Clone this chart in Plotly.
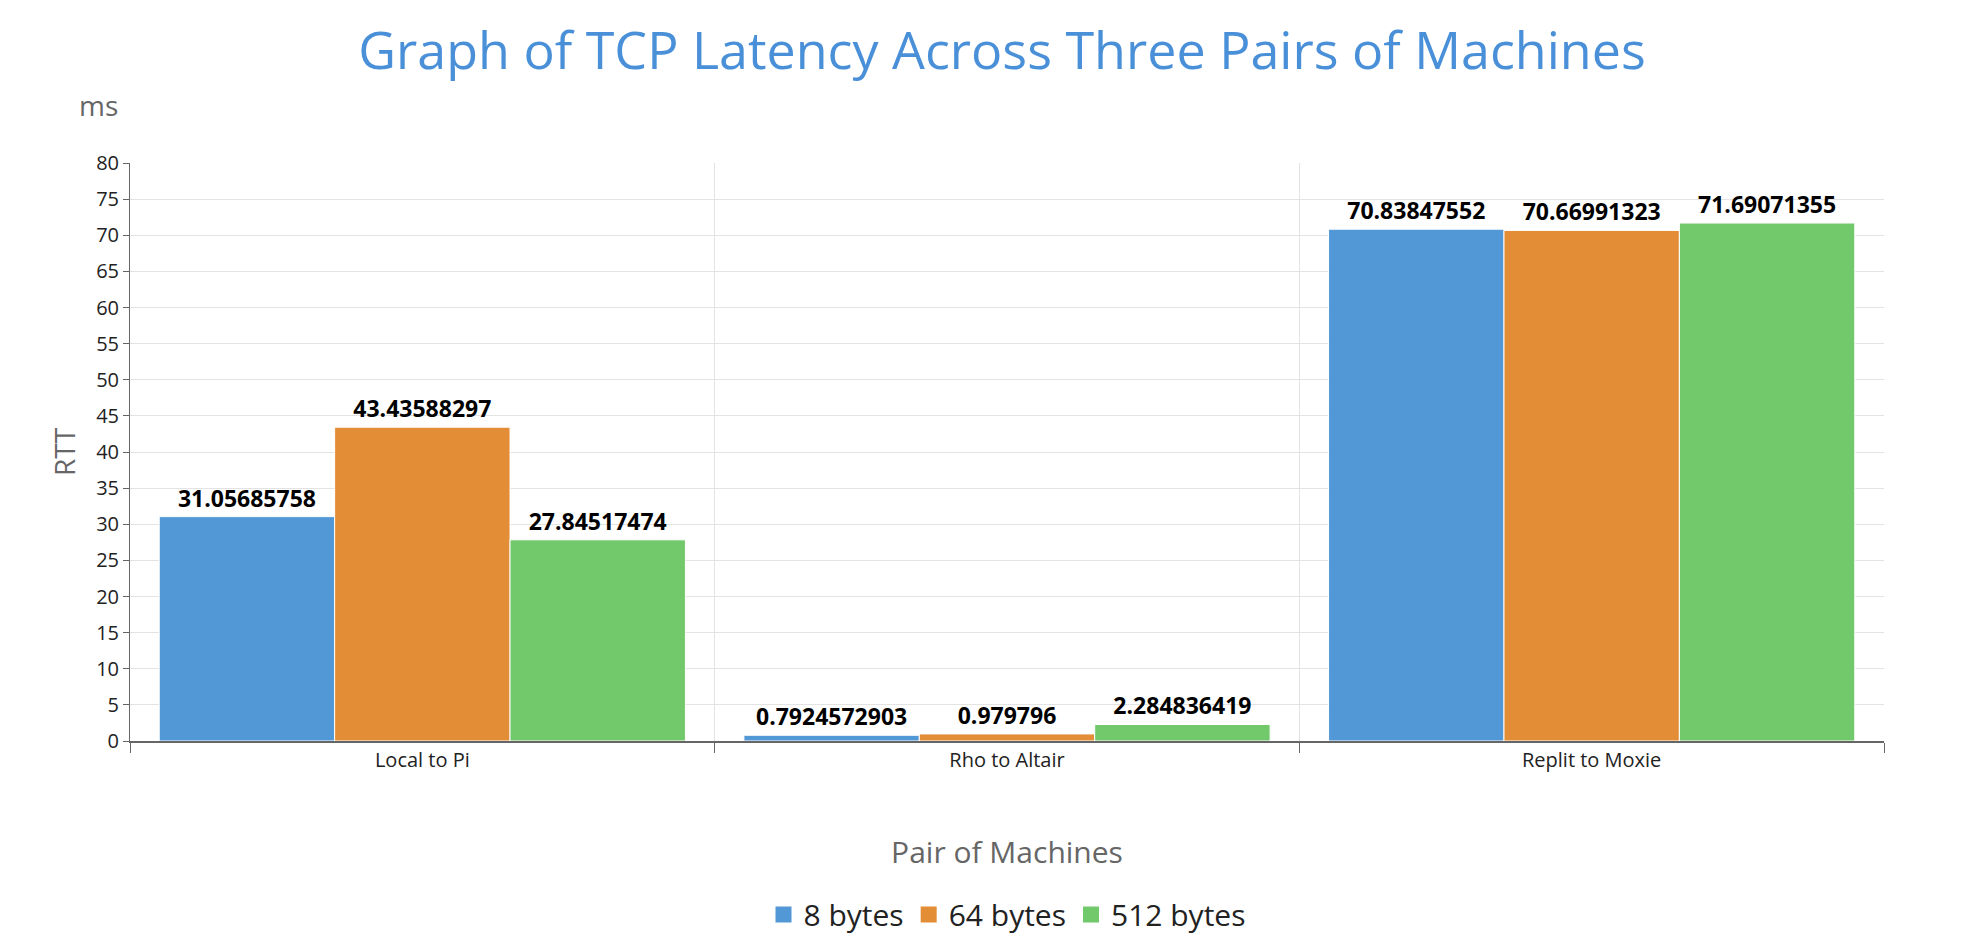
import plotly.graph_objects as go

categories = ["Local to Pi", "Rho to Altair", "Replit to Moxie"]
series_names = ["8 bytes", "64 bytes", "512 bytes"]
vals_8 = [31.05685758, 0.7924572903, 70.83847552]
vals_64 = [43.43588297, 0.979796, 70.66991323]
vals_512 = [27.84517474, 2.284836419, 71.69071355]
colors = ["#5398d6", "#e38d37", "#72c96c"]

fig = go.Figure()
for name, vals, c in zip(series_names, [vals_8, vals_64, vals_512], colors):
    fig.add_trace(go.Bar(
        x=categories, y=vals, name=name, showlegend=False,
        marker=dict(color=c, line=dict(color="white", width=1)),
        text=[str(v) for v in vals], textposition="outside",
        textfont=dict(family="Open Sans", size=23, color="black", weight="bold"),
        cliponaxis=False,
    ))
# legend entries with large square swatches
for name, c in zip(series_names, colors):
    fig.add_trace(go.Scatter(
        x=[None], y=[None], mode="markers", name=name,
        marker=dict(symbol="square", size=30, color=c),
    ))

fig.update_layout(
    width=1988, height=944,
    paper_bgcolor="white", plot_bgcolor="white",
    font=dict(family="Open Sans", color="#333"),
    title=dict(text="Graph of TCP Latency Across Three Pairs of Machines",
               x=0.5, xanchor="center", y=0.955, yanchor="middle",
               font=dict(size=52, color="#4a90d9")),
    margin=dict(l=122, r=112, t=155, b=200),
    barmode="group", bargap=0.1, bargroupgap=0,
    showlegend=True,
    legend=dict(orientation="h", x=0.5, xanchor="center", y=-0.3, yanchor="middle",
                font=dict(size=30, color="#222"), itemsizing="trace"),
    xaxis=dict(title=dict(text="Pair of Machines", font=dict(size=30, color="#666"), standoff=70),
               tickson="boundaries", showgrid=True, gridcolor="#e3e3e3",
               ticks="outside", ticklen=10, tickcolor="#666",
               tickfont=dict(size=20, color="#222"),
               showline=True, linecolor="#666", linewidth=2),
    yaxis=dict(title=dict(text="RTT", font=dict(size=28, color="#666"), standoff=12),
               range=[0, 80], dtick=5, showgrid=True, gridcolor="#e3e3e3",
               tickfont=dict(size=20, color="#222"), ticks="outside", ticklen=6, tickcolor="#666",
               showline=True, linecolor="#666", linewidth=1, zeroline=False),
    annotations=[dict(text="ms", xref="paper", yref="paper", x=-0.03, y=1.1,
                      xanchor="left", yanchor="middle", showarrow=False,
                      font=dict(size=28, color="#666"))],
)
fig.write_html("out.html")
